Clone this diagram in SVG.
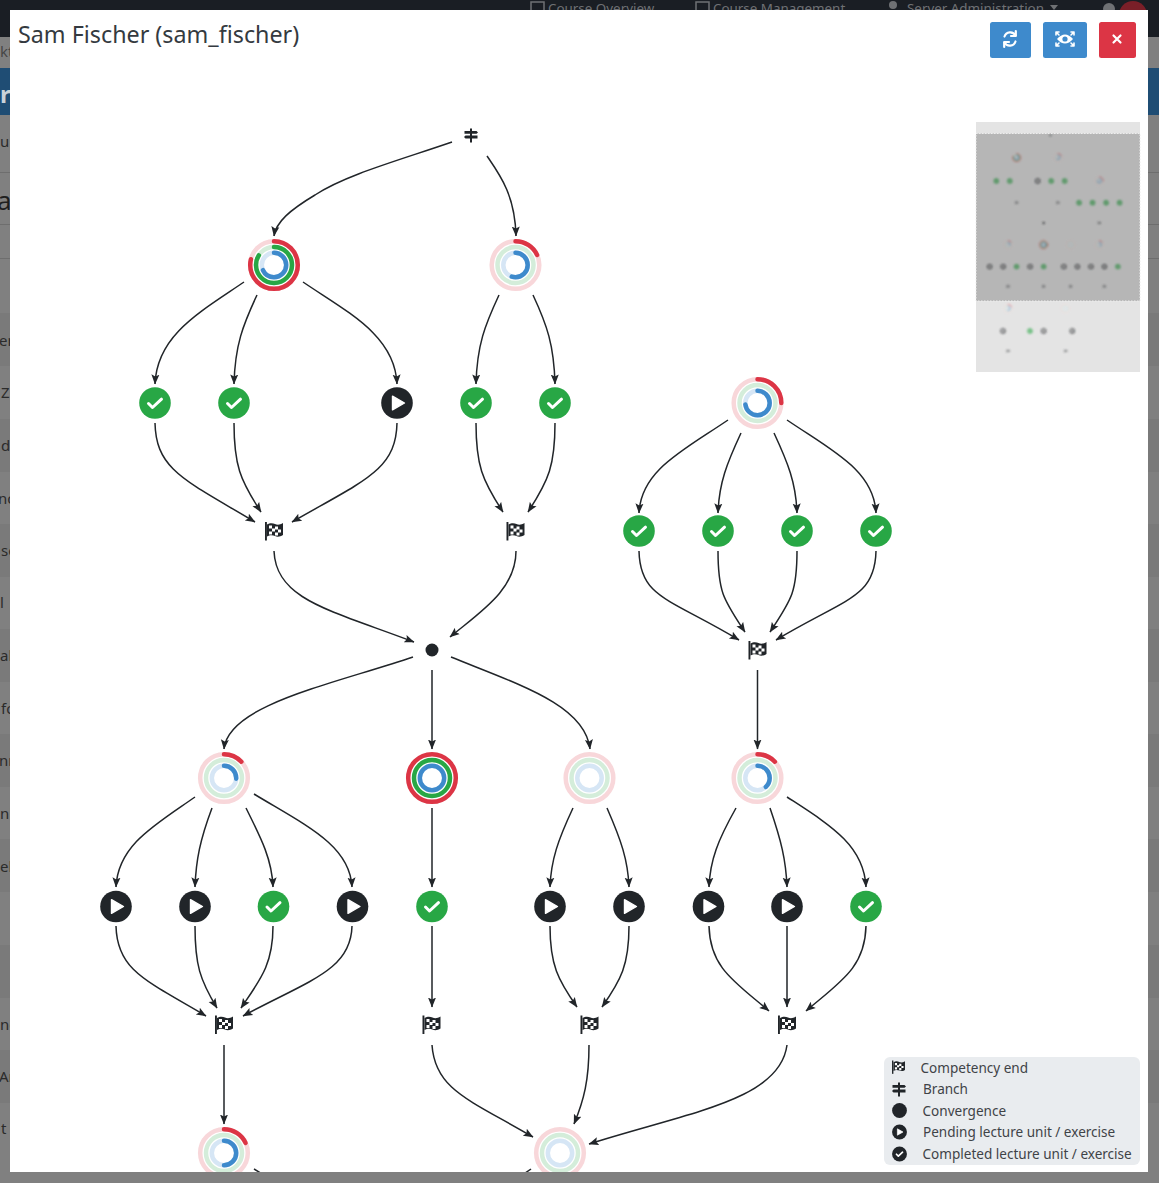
<svg xmlns="http://www.w3.org/2000/svg" width="1159" height="1183" viewBox="0 0 1159 1183">
<style>
.t{font-family:"Noto Sans","Open Sans","Liberation Sans",sans-serif}
.pg{font-family:"Noto Sans","Liberation Sans",sans-serif;font-size:15px;fill:#2b2b2b}
.nv{font-family:"Noto Sans","Liberation Sans",sans-serif;font-size:13.4px;fill:#6f7174}
.lg{font-family:"Noto Sans","Open Sans","Liberation Sans",sans-serif;font-size:13.55px;fill:#3f4347}
.e{fill:none;stroke:#212529;stroke-width:1.5;marker-end:url(#ah)}
.r{fill:none;stroke-width:4.5;stroke-linecap:round}
.rp{stroke:#f8d7da}.gp{stroke:#d4edda}.bp{stroke:#d6e6f5}
.rd{stroke:#dc3545}.gr{stroke:#28a745}.bl{stroke:#3e8acc}
.w{fill:none;stroke:#fff;stroke-linecap:round;stroke-linejoin:round}
</style>
<defs>
<marker id="ah" markerUnits="userSpaceOnUse" markerWidth="10" markerHeight="10" viewBox="0 0 10 10" refX="9.5" refY="5" orient="auto"><path d="M0 1 L10 5 L0 9 L2 5Z" fill="#212529"/></marker>
<clipPath id="cl"><rect x="10" y="10" width="1138" height="1162"/></clipPath>
<filter id="bl" x="-5%" y="-5%" width="110%" height="110%"><feGaussianBlur stdDeviation="0.8"/></filter>
<g id="check"><circle r="15.8" fill="#28a745"/><path class="w" stroke-width="3" d="M-6.5 0.5 L-2.5 4.5 L6.5 -3.8"/></g>
<g id="checkd"><circle r="15.8" fill="#212529"/><path class="w" stroke-width="3.6" d="M-6.5 0.5 L-2.5 4.5 L6.5 -3.8"/></g>
<g id="play"><circle r="15.8" fill="#212529"/><path d="M-4.5 -6.8 L7.5 0 L-4.5 6.8Z" fill="#fff" stroke="#fff" stroke-width="1.4" stroke-linejoin="round"/></g>
<g id="flag"><rect x="-9" y="-9" width="1.9" height="18.5" fill="#212529"/><path d="M-7 -6.5 C-4 -8.5 -1 -8 1 -7 C3 -6 6 -6 9 -8 L9 4 C6 6 3 6 1 5 C-1 4 -4 3.5 -7 5.5Z" fill="#212529"/><path d="M-5 -5.5h3v3h-3z M1 -4.5h3v3h-3z M-2 -2.5h3v3h-3z M4 -1.5h3v3h-3z M-5 .5h3v3h-3z M1 1.5h3v3h-3z" fill="#fff"/></g>
<g id="branch"><rect x="-1" y="-6.5" width="2" height="14" fill="#212529"/><path d="M-6.5 -4H5.5L7 -2.6L5.5 -1.2H-6.5Z M-5.5 .6H6.5V3.4H-5.5L-7 2Z" fill="#212529"/></g>
<g id="base"><circle class="r rp" r="23.8"/><circle class="r gp" r="18"/><circle class="r bp" r="12.2"/></g>
</defs>

<g id="page">
<rect width="1159" height="1183" fill="#808080"/>
<rect width="1159" height="37" fill="#1a1e24"/>
<text class="nv" x="548" y="13">Course Overview</text>
<text class="nv" x="713" y="13">Course Management</text>
<text class="nv" x="907" y="13">Server Administration</text>
<rect x="531" y="2" width="13" height="12" fill="none" stroke="#6f7174" stroke-width="1.5"/>
<rect x="696" y="2" width="13" height="12" fill="none" stroke="#6f7174" stroke-width="1.5"/>
<circle cx="893" cy="5" r="4" fill="#6f7174"/>
<path d="M1050 5h8l-4 5z" fill="#6f7174"/>
<circle cx="1109" cy="9" r="6" fill="#6f7174"/>
<circle cx="1133" cy="15" r="14" fill="#7a1f28"/>
<rect y="68" width="1159" height="47" fill="#1f4d74"/>
<rect y="172" width="1159" height="1" fill="#6e6e6e"/>
<rect y="224" width="1159" height="1" fill="#6e6e6e"/>
<rect y="258" width="1159" height="1" fill="#6e6e6e"/>
<rect y="313" width="1159" height="53" fill="#7a7a7a"/>
<rect y="419" width="1159" height="53" fill="#7a7a7a"/>
<rect y="524" width="1159" height="53" fill="#7a7a7a"/>
<rect y="629" width="1159" height="53" fill="#7a7a7a"/>
<rect y="734" width="1159" height="53" fill="#7a7a7a"/>
<rect y="839" width="1159" height="53" fill="#7a7a7a"/>
<rect y="945" width="1159" height="53" fill="#7a7a7a"/>
<rect y="1050" width="1159" height="53" fill="#7a7a7a"/>
<text class="pg" x="0" y="57" fill-opacity=".7">kt</text>
<text x="0" y="103" font-family="Noto Sans, sans-serif" font-size="24" font-weight="700" fill="#c9d2d9">r</text>
<text class="pg" x="0" y="147">ur</text>
<text x="-3" y="210" font-family="Noto Sans, sans-serif" font-size="26" fill="#1f1f1f">a</text>
<text class="pg" x="-1" y="346">er</text>
<text class="pg" x="1" y="398">Z</text>
<text class="pg" x="1" y="451">d</text>
<text class="pg" x="-2" y="504">no</text>
<text class="pg" x="1" y="556">se</text>
<text class="pg" x="0" y="608">l</text>
<text class="pg" x="0" y="661">al</text>
<text class="pg" x="1" y="714">fo</text>
<text class="pg" x="-1" y="766">nn</text>
<text class="pg" x="0" y="819">nb</text>
<text class="pg" x="0" y="872">eb</text>
<text class="pg" x="0" y="1030">ne</text>
<text class="pg" x="-1" y="1082">An</text>
<text class="pg" x="1" y="1134">t</text>
</g>

<rect id="modal" x="10" y="10" width="1138" height="1162" fill="#fff"/>
<text id="title" class="t" x="18" y="43" font-size="23.3" fill="#343a40">Sam Fischer (sam_fischer)</text>

<g id="buttons">
<rect x="990" y="22" width="41" height="36" rx="2.5" fill="#3e8acc"/>
<g class="w" stroke-width="2.2"><path d="M1004.5 36.5 A6 6 0 0 1 1015.5 35.5"/><path d="M1015.8 31 V36 H1011"/><path d="M1015.5 41.5 A6 6 0 0 1 1004.5 42.5"/><path d="M1004.2 47 V42 H1009"/></g>
<rect x="1043" y="22" width="44" height="36" rx="2.5" fill="#3e8acc"/>
<path d="M1057 39 Q1065 30 1073 39 Q1065 48 1057 39Z" fill="#fff"/><circle cx="1065" cy="39" r="2.6" fill="#3e8acc"/>
<g class="w" stroke-width="1.6"><path d="M1056 32l3 3M1056 35v-3h3M1074 32l-3 3M1074 35v-3h-3M1056 46l3-3M1056 43v3h3M1074 46l-3-3M1074 43v3h-3"/></g>
<rect x="1099" y="22" width="37" height="36" rx="2.5" fill="#dc3545"/>
<path class="w" stroke-width="2.2" d="M1113.5 35.5 L1120.5 42.5 M1120.5 35.5 L1113.5 42.5"/>
</g>

<g clip-path="url(#cl)">
<g id="connectors">
<path class="e" d="M452 142 C400 160 345 175 315 195 C290 210 276 222 274 236"/>
<path class="e" d="M487 156 C500 175 515 195 516 236"/>
<path class="e" d="M244 282 C200 312 157 335 155 384"/>
<path class="e" d="M257 295 C243 325 235 345 234 384"/>
<path class="e" d="M303 282 C347 312 395 335 397 384"/>
<path class="e" d="M499 295 C485 325 477 345 476 384"/>
<path class="e" d="M533 295 C547 325 554 345 555 384"/>
<path class="e" d="M155 423 C156 470 185 480 255 522"/>
<path class="e" d="M234 423 C234 465 240 480 261 512"/>
<path class="e" d="M397 423 C396 470 365 480 292 522"/>
<path class="e" d="M476 423 C476 465 482 480 503 512"/>
<path class="e" d="M555 423 C555 465 549 480 528 512"/>
<path class="e" d="M274 551 C276 600 330 610 414 642"/>
<path class="e" d="M516 551 C516 590 480 612 450 637"/>
<path class="e" d="M728 420 C684 450 641 470 639 513"/>
<path class="e" d="M741 433 C727 463 719 483 718 513"/>
<path class="e" d="M774 433 C788 463 796 483 797 513"/>
<path class="e" d="M787 420 C831 450 874 470 876 513"/>
<path class="e" d="M639 551 C640 598 669 598 739 640"/>
<path class="e" d="M718 551 C718 593 724 600 745 632"/>
<path class="e" d="M797 551 C797 593 791 600 770 632"/>
<path class="e" d="M876 551 C875 598 846 598 776 640"/>
<path class="e" d="M757.5 670 V749"/>
<path class="e" d="M413 657 C330 685 228 705 224 749"/>
<path class="e" d="M432 670 V749"/>
<path class="e" d="M451 657 C520 685 585 705 590 749"/>
<path class="e" d="M195 797 C155 825 118 845 116 887"/>
<path class="e" d="M212 808 C200 840 196 860 195 887"/>
<path class="e" d="M246 808 C262 840 272 860 273 887"/>
<path class="e" d="M254 794 C305 825 350 845 352 887"/>
<path class="e" d="M432 808 V887"/>
<path class="e" d="M573 808 C558 840 551 860 550 887"/>
<path class="e" d="M607 808 C621 840 628 860 629 887"/>
<path class="e" d="M736 808 C718 840 710 860 709 887"/>
<path class="e" d="M770 808 C781 840 786 860 787 887"/>
<path class="e" d="M787 797 C830 825 864 845 866 887"/>
<path class="e" d="M116 926 C117 970 145 980 206 1016"/>
<path class="e" d="M195 926 C195 965 200 980 217 1008"/>
<path class="e" d="M273 926 C273 965 260 980 241 1008"/>
<path class="e" d="M352 926 C351 970 310 980 243 1016"/>
<path class="e" d="M432 926 V1007"/>
<path class="e" d="M550 926 C550 965 558 980 577 1007"/>
<path class="e" d="M629 926 C629 965 621 980 602 1007"/>
<path class="e" d="M709 926 C710 968 735 982 769 1011"/>
<path class="e" d="M787 926 V1007"/>
<path class="e" d="M866 926 C865 968 840 982 806 1011"/>
<path class="e" d="M224 1045 V1124"/>
<path class="e" d="M432 1045 C435 1090 470 1100 533 1137"/>
<path class="e" d="M589 1045 C589 1080 584 1100 574 1124"/>
<path class="e" d="M787 1045 C780 1100 690 1112 589 1144"/>
<path fill="none" stroke="#212529" stroke-width="1.5" d="M254 1169 L272 1180"/>
<path fill="none" stroke="#212529" stroke-width="1.5" d="M531 1169 L515 1180"/>
</g>

<g id="branch-1" transform="translate(471 135)"><use href="#branch"/></g>
<g id="convergence-1"><circle cx="432" cy="650" r="6.5" fill="#212529"/></g>

<g id="comp-a" transform="translate(274 265)"><use href="#base"/><g transform="rotate(-90)"><circle class="r rd" r="23.8" pathLength="100" stroke-dasharray="79 200"/><circle class="r gr" r="18" pathLength="100" stroke-dasharray="84 200"/><circle class="r bl" r="12.2" pathLength="100" stroke-dasharray="68 200"/></g></g>
<g id="comp-b" transform="translate(515.5 265)"><use href="#base"/><g transform="rotate(-90)"><circle class="r rd" r="23.8" pathLength="100" stroke-dasharray="18 200"/><circle class="r bl" r="12.2" pathLength="100" stroke-dasharray="55 200"/></g></g>
<g id="comp-c" transform="translate(757.5 403)"><use href="#base"/><g transform="rotate(-90)"><circle class="r rd" r="23.8" pathLength="100" stroke-dasharray="25 200"/><circle class="r bl" r="12.2" pathLength="100" stroke-dasharray="73 200"/></g></g>
<g id="comp-d" transform="translate(224 778)"><use href="#base"/><g transform="rotate(-90)"><circle class="r rd" r="23.8" pathLength="100" stroke-dasharray="13 200"/><circle class="r bl" r="12.2" pathLength="100" stroke-dasharray="26 200"/></g></g>
<g id="comp-e" transform="translate(432 778)"><circle class="r rd" r="23.8"/><circle class="r gr" r="18"/><circle class="r bl" r="12.2"/></g>
<g id="comp-f" transform="translate(589.5 778)"><use href="#base"/></g>
<g id="comp-g" transform="translate(757.5 778)"><use href="#base"/><g transform="rotate(-90)"><circle class="r rd" r="23.8" pathLength="100" stroke-dasharray="13 200"/><circle class="r bl" r="12.2" pathLength="100" stroke-dasharray="38 200"/></g></g>
<g id="comp-h" transform="translate(224 1153)"><use href="#base"/><g transform="rotate(-90)"><circle class="r rd" r="23.8" pathLength="100" stroke-dasharray="18 200"/><circle class="r bl" r="12.2" pathLength="100" stroke-dasharray="50 200"/></g></g>
<g id="comp-i" transform="translate(560 1153)"><use href="#base"/></g>

<g id="u1"><use href="#check" x="155" y="403"/></g>
<g id="u2"><use href="#check" x="234" y="403"/></g>
<g id="u3"><use href="#play" x="397" y="403"/></g>
<g id="u4"><use href="#check" x="476" y="403"/></g>
<g id="u5"><use href="#check" x="555" y="403"/></g>
<g id="u6"><use href="#check" x="639" y="531"/></g>
<g id="u7"><use href="#check" x="718" y="531"/></g>
<g id="u8"><use href="#check" x="797" y="531"/></g>
<g id="u9"><use href="#check" x="876" y="531"/></g>
<g id="u10"><use href="#play" x="116" y="906.5"/></g>
<g id="u11"><use href="#play" x="195" y="906.5"/></g>
<g id="u12"><use href="#check" x="273.5" y="906.5"/></g>
<g id="u13"><use href="#play" x="352.5" y="906.5"/></g>
<g id="u14"><use href="#check" x="432" y="906.5"/></g>
<g id="u15"><use href="#play" x="550" y="906.5"/></g>
<g id="u16"><use href="#play" x="629" y="906.5"/></g>
<g id="u17"><use href="#play" x="708.5" y="906.5"/></g>
<g id="u18"><use href="#play" x="787" y="906.5"/></g>
<g id="u19"><use href="#check" x="866" y="906.5"/></g>

<g id="end1"><use href="#flag" x="274" y="531"/></g>
<g id="end2"><use href="#flag" x="515.5" y="531"/></g>
<g id="end3"><use href="#flag" x="757.5" y="650"/></g>
<g id="end4"><use href="#flag" x="224" y="1024.5"/></g>
<g id="end5"><use href="#flag" x="431.5" y="1024.5"/></g>
<g id="end6"><use href="#flag" x="589.5" y="1024.5"/></g>
<g id="end7"><use href="#flag" x="787" y="1024.5"/></g>
</g>

<g id="minimap">
<rect x="976" y="122" width="164" height="250" fill="#e4e4e4"/>
<g filter="url(#bl)" opacity=".7"><g transform="matrix(.171 0 0 .17 969.8 112.5)">
<use href="#branch" x="471" y="135"/><circle cx="432" cy="650" r="7" fill="#212529"/>
<use href="#comp-a"/><use href="#comp-b"/><use href="#comp-c"/><use href="#comp-d"/><use href="#comp-e"/><use href="#comp-f"/><use href="#comp-g"/><use href="#comp-h"/><use href="#comp-i"/>
<use href="#u1"/><use href="#u2"/><use href="#u3"/><use href="#u4"/><use href="#u5"/><use href="#u6"/><use href="#u7"/><use href="#u8"/><use href="#u9"/><use href="#u10"/><use href="#u11"/><use href="#u12"/><use href="#u13"/><use href="#u14"/><use href="#u15"/><use href="#u16"/><use href="#u17"/><use href="#u18"/><use href="#u19"/>
<use href="#end1"/><use href="#end2"/><use href="#end3"/><use href="#end4"/><use href="#end5"/><use href="#end6"/><use href="#end7"/>
<use href="#play" x="194" y="1285"/><use href="#check" x="352" y="1285"/><use href="#play" x="432" y="1285"/><use href="#play" x="599" y="1285"/>
<use href="#flag" x="224" y="1404"/><use href="#flag" x="561" y="1404"/>
</g></g>
<rect x="976" y="133.5" width="164" height="167.5" fill="#000" fill-opacity=".2" stroke="#eee" stroke-dasharray="1.5 1.5"/>
</g>

<g id="legend">
<rect x="884" y="1057" width="256" height="108" rx="6" fill="#e9ecef"/>
<use href="#flag" transform="translate(898.5 1067) scale(.72)"/>
<use href="#branch" transform="translate(899 1089)"/>
<circle cx="899.5" cy="1110.5" r="7.4" fill="#212529"/>
<use href="#play" transform="translate(899.5 1132) scale(.47)"/>
<use href="#checkd" transform="translate(899.5 1154) scale(.47)"/>
<text class="lg" x="920.5" y="1073">Competency end</text>
<text class="lg" x="923" y="1094">Branch</text>
<text class="lg" x="922.5" y="1116">Convergence</text>
<text class="lg" x="923" y="1137">Pending lecture unit / exercise</text>
<text class="lg" x="922.5" y="1159">Completed lecture unit / exercise</text>
</g>
</svg>
